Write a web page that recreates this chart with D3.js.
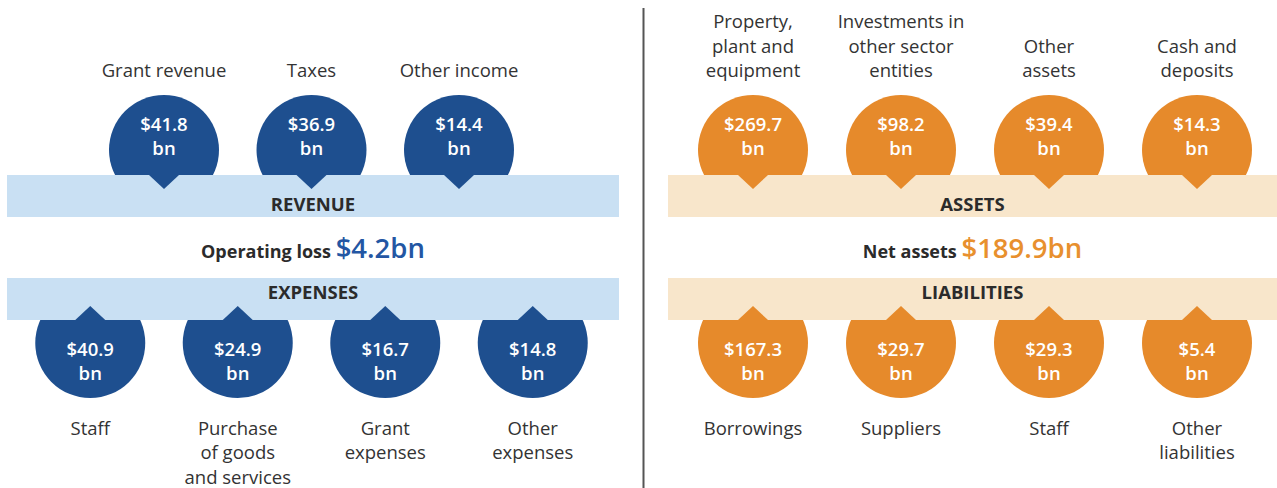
<!DOCTYPE html>
<html>
<head>
<meta charset="utf-8">
<script src="https://cdn.jsdelivr.net/npm/d3@7"></script>
<style>
  html, body { margin: 0; padding: 0; background: #fff; }
  svg { display: block; font-family: "Open Sans", "Noto Sans", sans-serif; }
</style>
</head>
<body>
<div id="chart"></div>
<script>
// data
const revenueLabels = [["Grant revenue"], ["Taxes"], ["Other income"]];
const revenueValues = [41.8, 36.9, 14.4];
const expenseLabels = [["Staff"], ["Purchase", "of goods", "and services"], ["Grant", "expenses"], ["Other", "expenses"]];
const expenseValues = [40.9, 24.9, 16.7, 14.8];
const assetLabels = [["Property,", "plant and", "equipment"], ["Investments in", "other sector", "entities"], ["Other", "assets"], ["Cash and", "deposits"]];
const assetValues = [269.7, 98.2, 39.4, 14.3];
const liabilityLabels = [["Borrowings"], ["Suppliers"], ["Staff"], ["Other", "liabilities"]];
const liabilityValues = [167.3, 29.7, 29.3, 5.4];
const bandTitles = ["REVENUE", "EXPENSES", "ASSETS", "LIABILITIES"];
const summaryLabels = ["Operating loss", "Net assets"];
const summaryValues = [4.2, 189.9];

const width = 1277, height = 488;
const r = 55;
const band = {top: 175, h: 42, gap: 61};   // upper band 175-217, lower band 278-320
const lh = 24.5, labelLh = 24.5;

const themes = [
  {dark: '#1e4f8f', light: '#c9e0f3', text: '#2356a3'},
  {dark: '#e68a2b', light: '#f8e6cb', text: '#e8902e'}
];

const panels = [
  {x0: 7, x1: 619, cx: 311.5, step: 147.5, top: revenueValues, topL: revenueLabels, bot: expenseValues, botL: expenseLabels,
   t1: bandTitles[0], t2: bandTitles[1], sl: summaryLabels[0], sv: summaryValues[0], th: themes[0]},
  {x0: 668, x1: 1277, cx: 975, step: 148, top: assetValues, topL: assetLabels, bot: liabilityValues, botL: liabilityLabels,
   t1: bandTitles[2], t2: bandTitles[3], sl: summaryLabels[1], sv: summaryValues[1], th: themes[1]}
];

const svg = d3.select('#chart').append('svg')
  .attr('width', width).attr('height', height);

// divider
svg.append('line')
  .attr('x1', 643.5).attr('x2', 643.5).attr('y1', 8).attr('y2', height)
  .attr('stroke', '#555').attr('stroke-width', 2);

const fmt = d3.format('.1f');

function rowScale(n, cx, step) {
  return d3.scalePoint().domain(d3.range(n))
    .range([cx - (n - 1) / 2 * step, cx + (n - 1) / 2 * step]);
}

// one <text> per item, lines as tspans
function multiline(sel, x, y, lines, h) {
  const t = sel.append('text').attr('x', x).attr('y', y);
  lines.forEach((s, k) => {
    t.append('tspan').attr('x', x).attr('dy', k ? h : 0).text(s);
  });
  return t;
}

panels.forEach(p => {
  const g = svg.append('g');
  const mid = (p.x0 + p.x1) / 2;
  const b1 = band.top, b2 = band.top + band.h + band.gap;
  const cyTop = b1 - 25, cyBot = b2 + band.h + 23;

  const xt = rowScale(p.top.length, p.cx, p.step);
  const xb = rowScale(p.bot.length, p.cx, p.step);

  // circles (drawn under bands)
  g.selectAll('circle.top').data(p.top).join('circle')
    .attr('cx', (d, i) => xt(i)).attr('cy', cyTop).attr('r', r)
    .attr('fill', p.th.dark);
  g.selectAll('circle.bot').data(p.bot).join('circle')
    .attr('class', 'bot')
    .attr('cx', (d, i) => xb(i)).attr('cy', cyBot).attr('r', r)
    .attr('fill', p.th.dark);

  // bands
  [b1, b2].forEach(y => {
    g.append('rect').attr('x', p.x0).attr('y', y)
      .attr('width', p.x1 - p.x0).attr('height', band.h)
      .attr('fill', p.th.light);
  });

  // pointers
  g.selectAll('path.pt').data(p.top).join('path')
    .attr('d', (d, i) => `M${xt(i) - 15},${b1}L${xt(i) + 15},${b1}L${xt(i)},${b1 + 14}Z`)
    .attr('fill', p.th.dark);
  g.selectAll('path.pb').data(p.bot).join('path')
    .attr('class', 'pb')
    .attr('d', (d, i) => `M${xb(i) - 15},${b2 + band.h}L${xb(i) + 15},${b2 + band.h}L${xb(i)},${b2 + band.h - 14}Z`)
    .attr('fill', p.th.dark);

  // band titles (nudged away from the pointers)
  [[p.t1, b1 + 29], [p.t2, b2 + 14]].forEach(([t, y]) => {
    g.append('text').attr('x', mid).attr('y', y + 6.5)
      .attr('text-anchor', 'middle').attr('font-size', 18.5).attr('font-weight', 700)
      .attr('fill', '#2b2b2b').text(t);
  });

  // values
  function values(data, xs, y1) {
    const vg = g.append('g').attr('fill', '#fff').attr('font-size', 18.5)
      .attr('font-weight', 600).attr('text-anchor', 'middle');
    data.forEach((d, i) => multiline(vg, xs(i), y1 + 6.5, ['$' + fmt(d), 'bn'], lh));
  }
  values(p.top, xt, cyTop - 26);
  values(p.bot, xb, cyBot + 6);

  // labels above (bottom aligned) and below (top aligned)
  const lg = g.append('g').attr('fill', '#333').attr('font-size', 18.5)
    .attr('text-anchor', 'middle');
  p.topL.forEach((lines, i) => {
    multiline(lg, xt(i), 70.5 - (lines.length - 1) * labelLh + 6.5, lines, labelLh);
  });
  p.botL.forEach((lines, i) => {
    multiline(lg, xb(i), 428 + 6.5, lines, labelLh);
  });

  // summary
  const st = g.append('text').attr('x', mid).attr('y', 258).attr('text-anchor', 'middle');
  st.append('tspan').attr('font-size', 18).attr('font-weight', 700).attr('fill', '#2b2b2b')
    .text(p.sl + ' ');
  st.append('tspan').attr('font-size', 27.5).attr('font-weight', 600).attr('fill', p.th.text)
    .text('$' + fmt(p.sv) + 'bn');
});
</script>
</body>
</html>
